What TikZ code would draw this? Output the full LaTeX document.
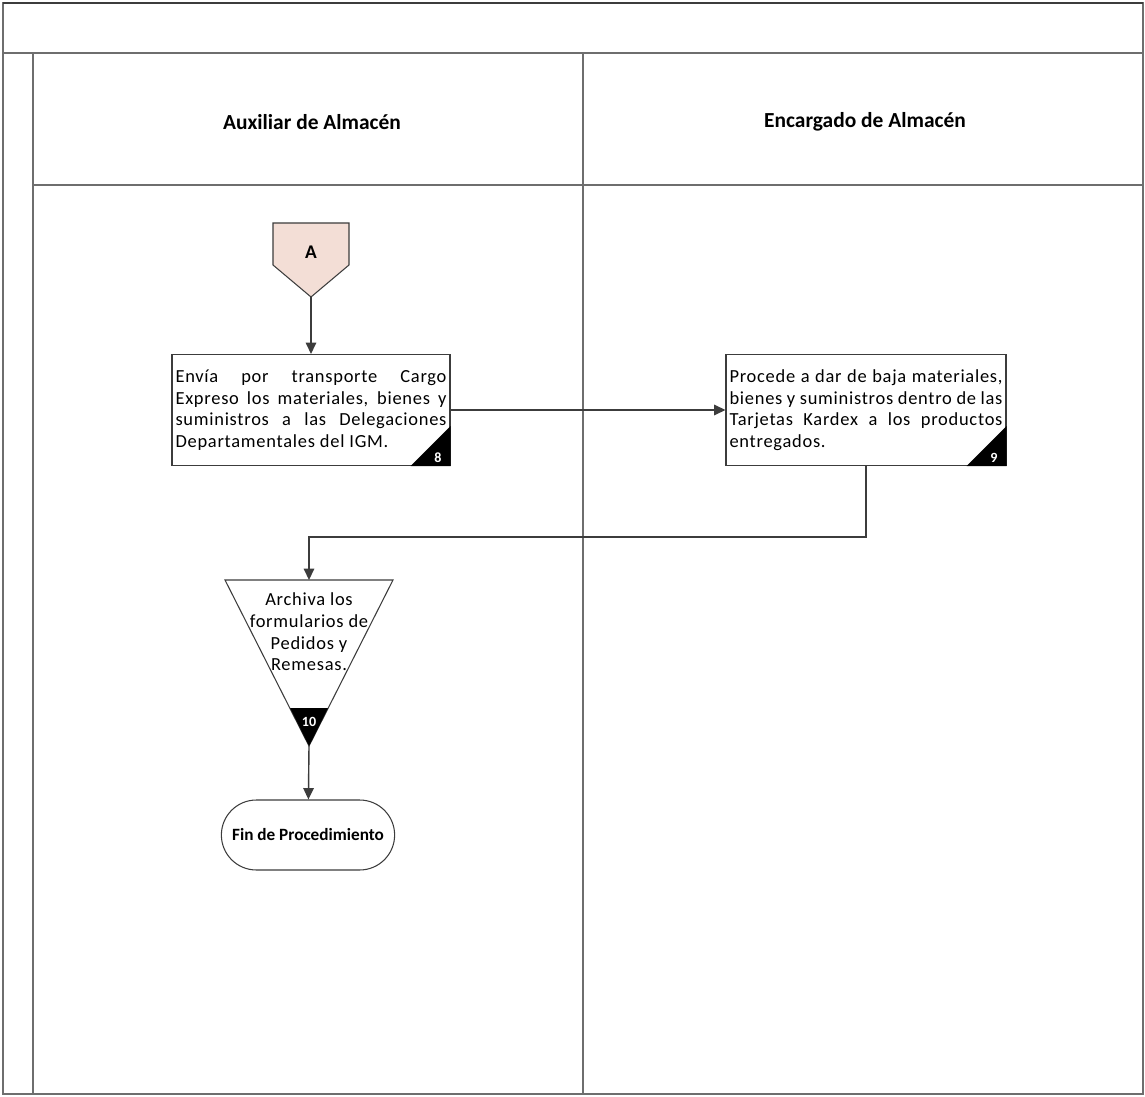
\documentclass[tikz,border=0pt]{standalone}
\usepackage{fontspec}
\setmainfont{Carlito}
\usepackage{tikz}
\usetikzlibrary{arrows.meta,positioning,shapes.misc}
\definecolor{almline}{HTML}{3C3C3C}
\definecolor{almframe}{HTML}{6E6E6E}
\definecolor{almpink}{HTML}{F3DED6}
\newcommand{\almtext}{\fontsize{10.5}{12.3}\selectfont\addfontfeatures{LetterSpace=4}}
\tikzset{
  alm/task/.style={
    draw=almline, fill=white, line width=0.6pt, align=justify, inner sep=2pt,
    font=\almtext, minimum height=2.22cm
  },
  alm/lane/.style={font=\fontsize{12.2}{14}\selectfont\bfseries},
  alm/num/.style={text=white, font=\fontsize{8}{9}\selectfont\bfseries, inner xsep=5pt, inner ysep=2pt},
  alm/term/.style={
    draw=almline, rounded rectangle, line width=0.6pt, minimum width=3.7cm,
    minimum height=1.4cm, font=\fontsize{9.8}{11}\selectfont\bfseries
  },
  alm/frame/.style={almframe, line width=0.6pt},
  alm/arr/.style={-{Triangle[length=6.5pt,width=6pt]}, almline, line width=0.8pt}
}
\begin{document}
\begin{tikzpicture}[x=0.02cm, y=-0.02cm]
  \useasboundingbox (0,0) rectangle (1145,1097);
  % lanes
  \draw[alm/frame] (3,3) rectangle (1143,1094);
  \draw[almline, line width=1.4pt] (3,3) -- (1143,3);
  \draw[alm/frame] (3,53) -- (1143,53);
  \draw[alm/frame] (33,53) -- (33,1094);
  \draw[alm/frame] (583,53) -- (583,1094);
  \draw[alm/frame] (33,185) -- (1143,185);
  \node[alm/lane] (aux) at (312,122) {Auxiliar de Almacén};
  \node[alm/lane] (enc) at (865,122) {Encargado de Almacén};

  % connector A
  \draw[almline, fill=almpink, line width=0.6pt]
    (273,223) -- (349,223) -- (349,265) -- (311,297) -- (273,265) -- cycle;
  \node[font=\fontsize{11}{13}\selectfont\bfseries] (conA) at (311,252) {A};
  \coordinate (conAtip) at (311,297);

  % activities
  \node[alm/task, minimum width=5.54cm, text width=5.42cm] (t8) at (311,410)
    {Envía por transporte Cargo\linebreak Expreso los materiales, bienes y\linebreak
     suministros a las Delegaciones\linebreak Departamentales del IGM.};
  \fill[black] (t8.south east) -- ++(-40,0) -- ++(40,-40) -- cycle;
  \node[alm/num, anchor=south east] at (t8.south east) {8};

  \node[alm/task, minimum width=5.58cm, text width=5.46cm] (t9) at (866,410)
    {Procede a dar de baja materiales,\linebreak bienes y suministros dentro de las\linebreak
     Tarjetas Kardex a los productos\linebreak entregados.};
  \fill[black] (t9.south east) -- ++(-40,0) -- ++(40,-40) -- cycle;
  \node[alm/num, anchor=south east] at (t9.south east) {9};

  % archive
  \draw[almline, fill=white, line width=0.6pt] (225,580) -- (393,580) -- (309,746) -- cycle;
  \fill[black] (290,708) -- (328,708) -- (309,746) -- cycle;
  \node[alm/num] at (309,722) {10};
  \node[font=\almtext, align=center] (arch) at (309,632)
    {Archiva los\\formularios de\\Pedidos y\\Remesas.};
  \coordinate (archtop) at (309,580);
  \coordinate (archtip) at (309,746);

  \node[alm/term] (fin) at (308,835) {Fin de Procedimiento};

  % flow
  \draw[alm/arr] (conAtip) -- (t8);
  \draw[alm/arr] (t8) -- (t9);
  \draw[alm/arr] (t9.south) -- ++(0,71) -| (archtop);
  \draw[alm/arr] (archtip) -- (fin);
\end{tikzpicture}
\end{document}
